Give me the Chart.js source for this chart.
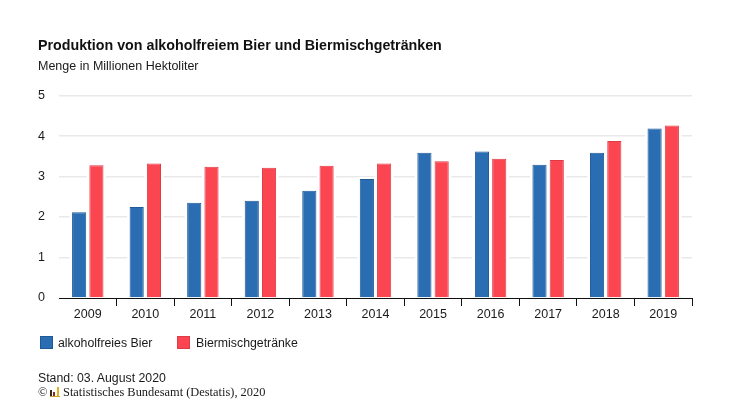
<!DOCTYPE html>
<html lang="de"><head><meta charset="utf-8">
<script src="https://cdn.jsdelivr.net/npm/chart.js@4"></script>
<style>
html,body{margin:0;padding:0;background:#fff;width:730px;height:411px;overflow:hidden}
#wrap{position:relative;width:730px;height:411px}
canvas{position:absolute;left:0;top:0}
.t{position:absolute;white-space:nowrap;font-family:"Liberation Sans",Arial,sans-serif;font-size:12.3px;color:#1a1a1a;line-height:14px}
.sw{position:absolute;width:11px;height:11px;border:1px solid}
.lg{position:absolute;width:2px;bottom:0}
</style></head><body>
<div id="wrap">
<canvas id="c" width="730" height="411"></canvas>
<div class="sw" style="left:40px;top:336px;background:#2a6db2;border-color:#1f5a96"></div>
<div class="t" style="left:58px;top:336px">alkoholfreies Bier</div>
<div class="sw" style="left:177px;top:336px;background:#fb4550;border-color:#dd3c46"></div>
<div class="t" style="left:196px;top:336px">Biermischgetränke</div>
<div class="t" style="left:38px;top:371px">Stand: 03. August 2020</div>
<div class="t" style="left:38px;top:385px;font-family:'Liberation Serif',serif;font-size:12.4px">©</div>
<div style="position:absolute;left:50px;top:386px;width:10px;height:10px;border-bottom:1px solid #c9a227">
<div class="lg" style="left:0;height:6px;background:#3a2a20"></div>
<div class="lg" style="left:3px;height:4px;background:#8a2a2a"></div>
<div class="lg" style="left:7px;height:9px;background:#e0b020"></div>
</div>
<div class="t" style="left:63px;top:385px;font-family:'Liberation Serif',serif;font-size:12.4px">Statistisches Bundesamt (Destatis), 2020</div>
</div>
<script>
const categories = ["2009","2010","2011","2012","2013","2014","2015","2016","2017","2018","2019"];
const alkoholfreiesBier = [2.12,2.25,2.35,2.4,2.65,2.94,3.59,3.62,3.29,3.59,4.19];
const biermischgetraenke = [3.28,3.32,3.24,3.22,3.27,3.32,3.38,3.44,3.41,3.88,4.26];
const yTicks = [0,1,2,3,4,5];
const fontFam = '"Liberation Sans",Arial,sans-serif';

const barHalo = {
  id:'barHalo',
  beforeDatasetsDraw(chart){
    const ctx = chart.ctx; ctx.save(); ctx.fillStyle='#fff';
    chart.data.datasets.forEach((d,i)=>{
      chart.getDatasetMeta(i).data.forEach(b=>{
        const w=b.width;
        ctx.fillRect(b.x-w/2-2.5,b.y-2,w+5,b.base-b.y+1);
      });
    });
    ctx.restore();
  }
};

new Chart(document.getElementById('c'),{
  type:'bar',
  plugins:[barHalo],
  data:{labels:categories,datasets:[
    {label:'alkoholfreies Bier',data:alkoholfreiesBier,backgroundColor:'#2a6db2',borderColor:'#1f5a96',borderWidth:1},
    {label:'Biermischgetränke',data:biermischgetraenke,backgroundColor:'#fb4550',borderColor:'#dd3c46',borderWidth:1}
  ]},
  options:{
    responsive:false,animation:false,
    layout:{padding:{left:38,right:38,top:38,bottom:88}},
    datasets:{bar:{categoryPercentage:0.6,barPercentage:0.82}},
    plugins:{
      legend:{display:false},tooltip:{enabled:false},
      title:{display:true,align:'start',text:'Produktion von alkoholfreiem Bier und Biermischgetränken',color:'#111',
        font:{family:fontFam,size:14.25,weight:'bold'},padding:{top:0,bottom:4}},
      subtitle:{display:true,align:'start',text:'Menge in Millionen Hektoliter',color:'#1a1a1a',
        font:{family:fontFam,size:12.5},padding:{top:0,bottom:21.5}}
    },
    scales:{
      x:{
        grid:{display:true,drawOnChartArea:false,drawTicks:true,tickLength:8,offset:true,
          tickColor:c=>c.index===0?'rgba(0,0,0,0)':'#111',tickWidth:1},
        border:{display:true,color:'#111',width:1},
        ticks:{color:'#1a1a1a',font:{family:fontFam,size:12.5},padding:1,maxRotation:0}
      },
      y:{
        min:0,max:5,
        afterBuildTicks(s){s.ticks=yTicks.map(v=>({value:v}));},
        afterFit(s){s.width=21;},
        grid:{color:c=>c.tick.value===0?'rgba(0,0,0,0)':'#e9e9e9',lineWidth:1.5,drawTicks:false},
        border:{display:false},
        ticks:{color:'#1a1a1a',font:{family:fontFam,size:12.5},padding:14}
      }
    }
  }
});
</script>
</body></html>
